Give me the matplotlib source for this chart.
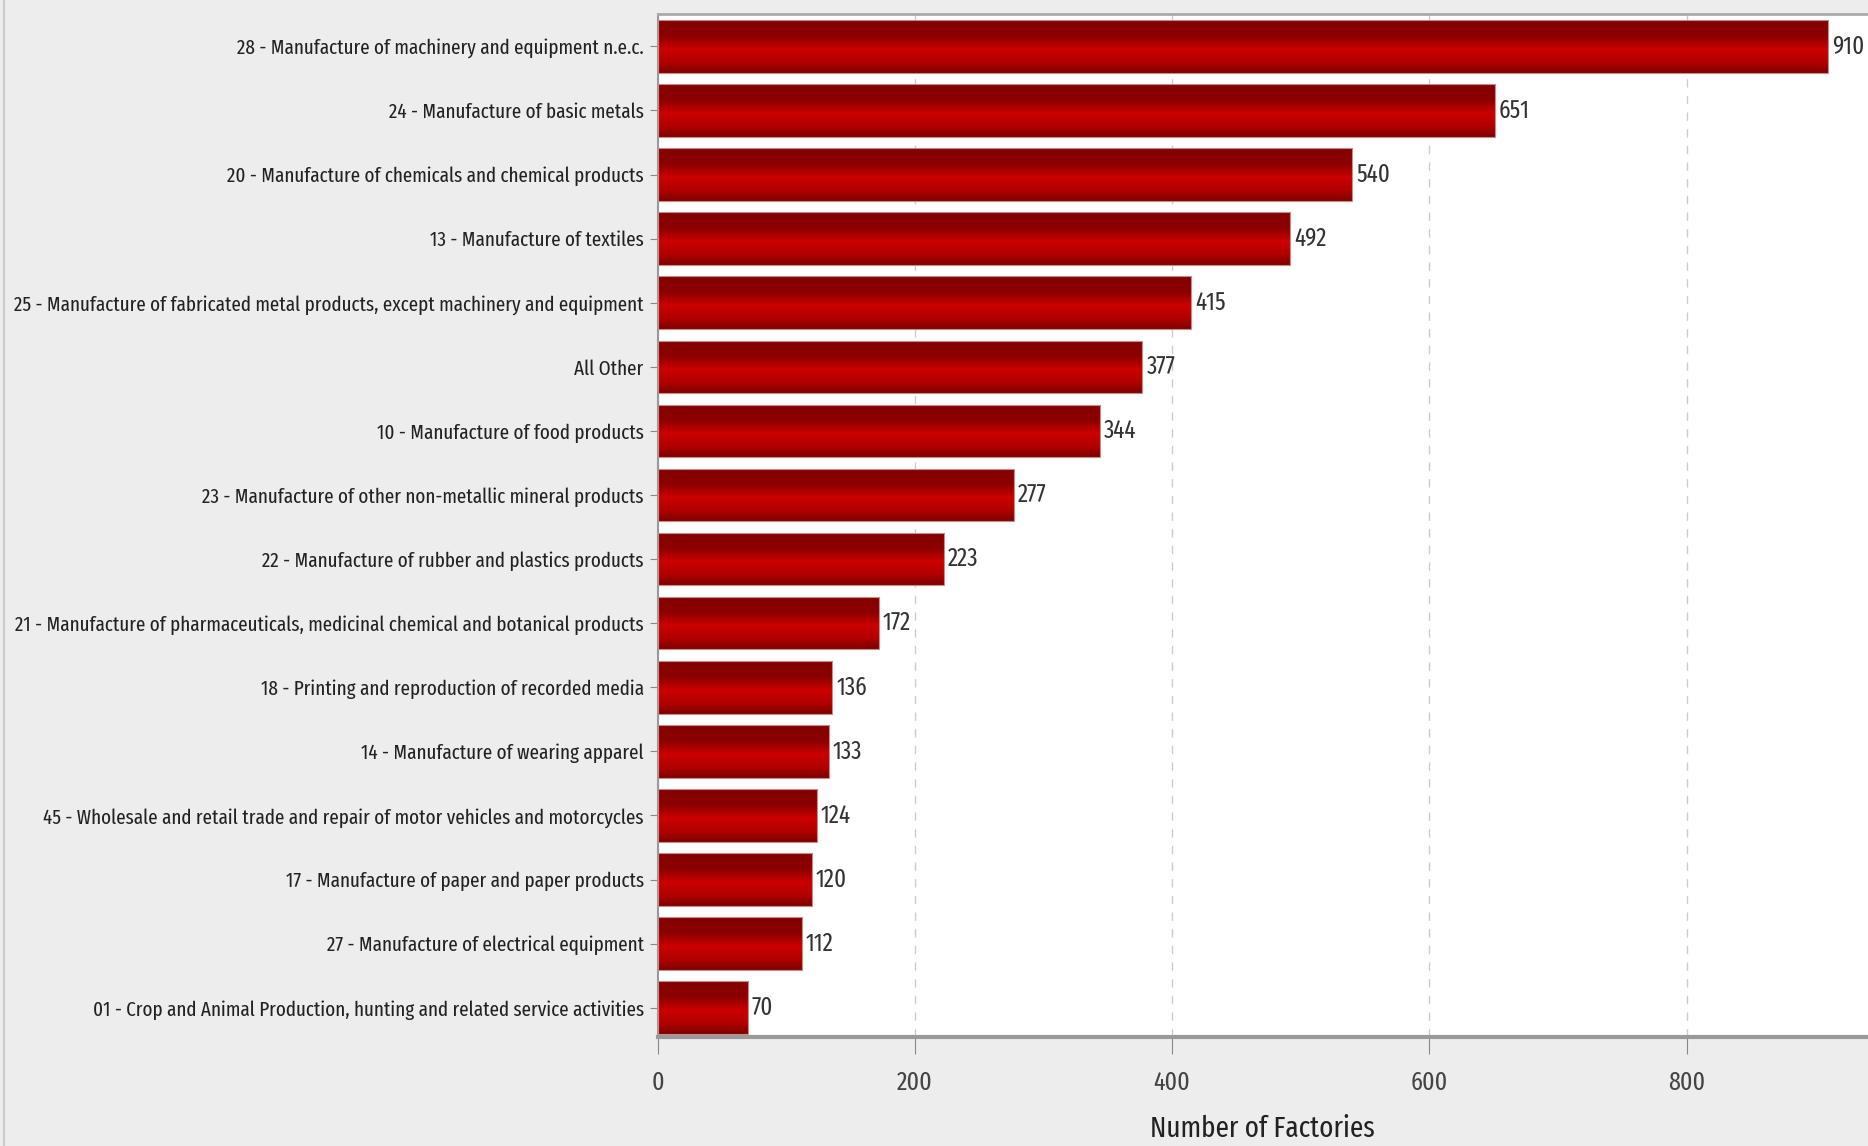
import numpy as np
import matplotlib.pyplot as plt
from matplotlib.colors import LinearSegmentedColormap
from matplotlib import font_manager

categories = [
    '28 - Manufacture of machinery and equipment n.e.c.',
    '24 - Manufacture of basic metals',
    '20 - Manufacture of chemicals and chemical products',
    '13 - Manufacture of textiles',
    '25 - Manufacture of fabricated metal products, except machinery and equipment',
    'All Other',
    '10 - Manufacture of food products',
    '23 - Manufacture of other non-metallic mineral products',
    '22 - Manufacture of rubber and plastics products',
    '21 - Manufacture of pharmaceuticals, medicinal chemical and botanical products',
    '18 - Printing and reproduction of recorded media',
    '14 - Manufacture of wearing apparel',
    '45 - Wholesale and retail trade and repair of motor vehicles and motorcycles',
    '17 - Manufacture of paper and paper products',
    '27 - Manufacture of electrical equipment',
    '01 - Crop and Animal Production, hunting and related service activities',
]
factories = [910, 651, 540, 492, 415, 377, 344, 277, 223, 172, 136, 133, 124, 120, 112, 70]
x_ticks = [0, 200, 400, 600, 800]


def narrowness(f):
    # rank condensed faces, extra condensed first
    tag = (f.name + ' ' + str(f.stretch) + ' ' + f.fname).lower().replace('-', '')
    if f.style != 'normal' or f.weight not in (400, 'normal', 'regular'):
        return 0
    if 'extracondensed' in tag or 'extra condensed' in tag:
        return 3
    if 'semicondensed' in tag or 'semi condensed' in tag:
        return 1
    if 'condensed' in tag or 'narrow' in tag:
        return 2
    return 0


ranked = sorted(font_manager.fontManager.ttflist, key=narrowness, reverse=True)
if ranked and narrowness(ranked[0]) > 0:
    fp = font_manager.FontProperties(fname=ranked[0].fname)
else:
    fp = font_manager.FontProperties(family='Liberation Sans')

bg = '#ededed'
fig = plt.figure(figsize=(18.68, 11.46), dpi=100, facecolor=bg)
ax = fig.add_axes([0.352, 0.0955, 0.648, 0.892])
ax.set_facecolor('white')

cmap = LinearSegmentedColormap.from_list('bar', [
    (0.0, '#840000'), (0.3, '#8c0000'), (0.55, '#cc0000'),
    (0.8, '#b20000'), (1.0, '#7e0000')])
grad = np.linspace(0, 1, 64).reshape(-1, 1)

y = np.arange(len(categories))
h = 0.82
bars = ax.barh(y, factories, height=h, color='none', edgecolor='#c98a8a', linewidth=0.8, zorder=3)
vlabels = []
for b, yi, v in zip(bars, y, factories):
    im = ax.imshow(grad, extent=(0, v, yi - h / 2, yi + h / 2), origin='lower',
                   cmap=cmap, aspect='auto', zorder=2)
    im.set_clip_path(b)
    vlabels.append(ax.text(v + 3, yi, str(v), va='center', ha='left', fontproperties=fp,
                           color='#333333', zorder=4))

ax.set_xlim(0, 941)
ax.set_ylim(len(categories) - 0.55, -0.5)
ax.set_aspect('auto')

ax.set_yticks(y)
ylabels = ax.set_yticklabels(categories, fontproperties=fp, color='#222222')
ax.set_xticks(x_ticks)
xlabels = ax.set_xticklabels([str(t) for t in x_ticks], fontproperties=fp, color='#444444')
ax.tick_params(axis='y', length=6, color='#888888', pad=4)
ax.tick_params(axis='x', length=12, color='#888888', pad=12)

# fit the longest label into the space left of the axes
for t in ylabels:
    t.set_fontsize(20)
fig.canvas.draw()
r = fig.canvas.get_renderer()
widest = max(t.get_window_extent(r).width for t in ylabels)
size = min(19.5, 20 * 630 / widest)
for t in ylabels:
    t.set_fontsize(size)
for t in vlabels:
    t.set_fontsize(size * 1.2)
for t in xlabels:
    t.set_fontsize(size * 1.25)

ax.grid(axis='x', linestyle=(0, (6, 6)), color='#cccccc', linewidth=1, zorder=0)
ax.set_axisbelow(True)

ax.spines['right'].set_visible(False)
ax.spines['bottom'].set_color('#999999')
ax.spines['bottom'].set_linewidth(3)
ax.spines['top'].set_color('#aaaaaa')
ax.spines['top'].set_linewidth(2)
ax.spines['left'].set_color('#999999')
ax.spines['left'].set_linewidth(1.5)

ax.set_xlabel('Number of Factories', fontproperties=fp, fontsize=size * 1.42, color='#222222', labelpad=14)

fig.add_artist(plt.Line2D([0.002, 0.002], [0, 1], color='#cccccc', linewidth=1.5))

fig.savefig('out.png', dpi=100, facecolor=bg)
